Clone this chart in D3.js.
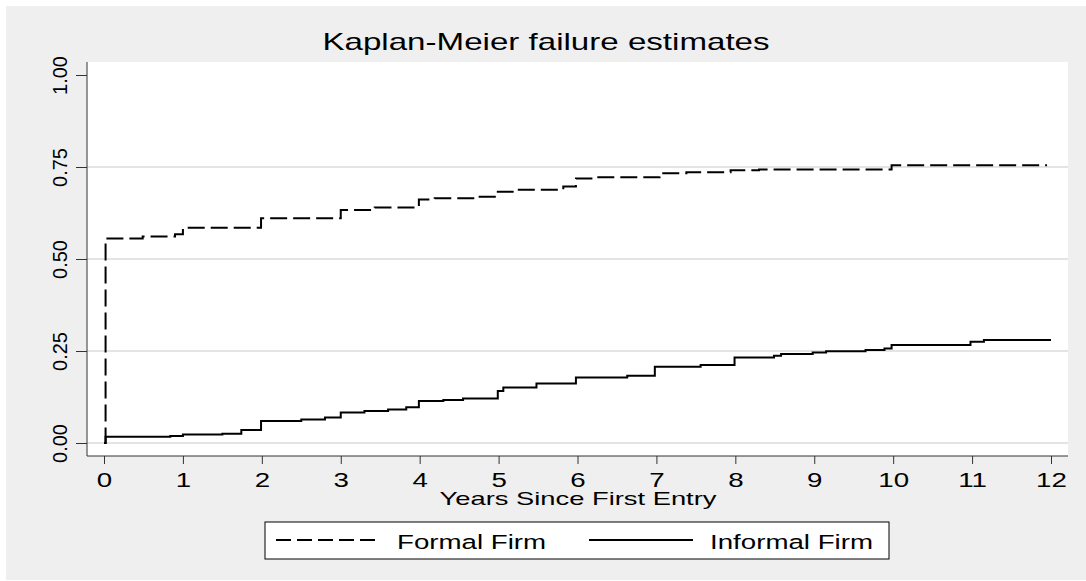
<!DOCTYPE html>
<html>
<head>
<meta charset="utf-8">
<script src="https://cdn.jsdelivr.net/npm/d3@7"></script>
<style>
  body { margin: 0; background: #fff; }
  text { font-family: "Liberation Sans", Arial, sans-serif; fill: #000; }
</style>
</head>
<body>
<div class="container"></div>
<script>
// ===== DATA =====
var formalTimes  = [0, 0.02, 0.49, 0.9, 1.0, 1.99, 3.0, 3.43, 3.99, 4.19, 4.76, 4.99, 5.22, 5.82, 5.98, 6.2, 7.04, 7.38, 7.94, 8.3, 9.98, 11.95];
var formalValues = [0, 0.556, 0.561, 0.567, 0.585, 0.611, 0.633, 0.640, 0.662, 0.665, 0.669, 0.683, 0.688, 0.697, 0.719, 0.722, 0.733, 0.736, 0.741, 0.743, 0.755, 0.755];

var informalTimes  = [0, 0.02, 0.84, 1.0, 1.5, 1.74, 1.99, 2.5, 2.8, 3.0, 3.3, 3.6, 3.83, 3.99, 4.3, 4.55, 4.99, 5.06, 5.48, 5.98, 6.63, 6.98, 7.56, 7.99, 8.49, 8.58, 8.98, 9.15, 9.65, 9.89, 9.98, 10.98, 11.15, 12];
var informalValues = [0, 0.017, 0.019, 0.023, 0.025, 0.035, 0.060, 0.064, 0.069, 0.083, 0.087, 0.091, 0.097, 0.114, 0.117, 0.121, 0.141, 0.151, 0.162, 0.178, 0.183, 0.207, 0.212, 0.232, 0.237, 0.242, 0.246, 0.249, 0.253, 0.257, 0.266, 0.275, 0.280, 0.280];

var xTicks = [0, 1, 2, 3, 4, 5, 6, 7, 8, 9, 10, 11, 12];
var yTicks = [0, 0.25, 0.5, 0.75, 1];
var gridTicks = [0, 0.25, 0.5, 0.75];
var seriesNames = ['Formal Firm', 'Informal Firm'];

buildChart();

function buildChart() {

  /* ===== SET UP CHART =====*/
  var w = 1086;
  var h = 581;
  var plot = { left: 87, right: 1068, top: 62, bottom: 456 };
  var stretch = 1.42;

  var svg = d3.select('.container')
    .append('svg')
    .attr('width', w)
    .attr('height', h);

  svg.append('rect')
    .attr('x', 6).attr('y', 6)
    .attr('width', w - 6).attr('height', h - 7)
    .attr('fill', '#efefef');

  svg.append('rect')
    .attr('x', plot.left).attr('y', plot.top)
    .attr('width', plot.right - plot.left)
    .attr('height', plot.bottom - plot.top)
    .attr('fill', '#fff');

  var xScale = d3.scaleLinear()
    .domain([0, 12])
    .range([104, 1051]);

  var yScale = d3.scaleLinear()
    .domain([0, 1])
    .range([443, 75]);

  /* ===== GRID =====*/
  svg.append('g')
    .selectAll('line')
    .data(gridTicks)
    .enter()
    .append('line')
    .attr('x1', plot.left)
    .attr('x2', plot.right)
    .attr('y1', function(d) { return yScale(d); })
    .attr('y2', function(d) { return yScale(d); })
    .attr('stroke', '#e4e4e4')
    .attr('stroke-width', 2);

  /* ===== AXES =====*/
  var xAxis = d3.axisBottom(xScale)
    .tickValues(xTicks)
    .tickSizeInner(8)
    .tickSizeOuter(0);

  var gx = svg.append('g')
    .attr('transform', 'translate(0,' + plot.bottom + ')')
    .call(xAxis);
  gx.select('.domain').remove();
  gx.selectAll('line').attr('stroke', '#333');
  gx.selectAll('text')
    .attr('y', 31)
    .attr('dy', 0)
    .attr('transform', 'scale(' + stretch + ',1)')
    .style('font-size', '19.5px')
    .style('font-family', '"Liberation Sans", Arial, sans-serif')
    .attr('fill', '#000');

  var yAxis = d3.axisLeft(yScale)
    .tickValues(yTicks)
    .tickFormat(d3.format('.2f'))
    .tickSizeInner(11)
    .tickSizeOuter(0);

  var gy = svg.append('g')
    .attr('transform', 'translate(' + plot.left + ',0)')
    .call(yAxis);
  gy.select('.domain').remove();
  gy.selectAll('line').attr('stroke', '#333');
  gy.selectAll('text')
    .attr('x', 0)
    .attr('dy', 0)
    .attr('text-anchor', 'middle')
    .attr('transform', 'translate(-20,0) rotate(-90)')
    .style('font-size', '20px')
    .style('font-family', '"Liberation Sans", Arial, sans-serif')
    .attr('fill', '#000');

  // axis lines
  svg.append('line')
    .attr('x1', plot.left).attr('x2', plot.left)
    .attr('y1', plot.top).attr('y2', plot.bottom)
    .attr('stroke', '#333');
  svg.append('line')
    .attr('x1', plot.left).attr('x2', plot.right)
    .attr('y1', plot.bottom).attr('y2', plot.bottom)
    .attr('stroke', '#333');

  /* ===== CURVES =====*/
  var line = d3.line()
    .x(function(d) { return xScale(d[0]); })
    .y(function(d) { return yScale(d[1]); })
    .curve(d3.curveStepAfter);

  svg.append('path')
    .datum(d3.zip(formalTimes, formalValues))
    .attr('d', line)
    .attr('fill', 'none')
    .attr('stroke', '#000')
    .attr('stroke-width', 2)
    .attr('stroke-dasharray', '17,6');

  svg.append('path')
    .datum(d3.zip(informalTimes, informalValues))
    .attr('d', line)
    .attr('fill', 'none')
    .attr('stroke', '#000')
    .attr('stroke-width', 2);

  /* ===== TITLES =====*/
  svg.append('text')
    .text('Kaplan-Meier failure estimates')
    .attr('text-anchor', 'middle')
    .attr('transform', 'translate(546,50) scale(1.44,1)')
    .style('font-size', '23px');

  svg.append('text')
    .text('Years Since First Entry')
    .attr('text-anchor', 'middle')
    .attr('transform', 'translate(578,505) scale(1.47,1)')
    .style('font-size', '18.6px');

  /* ===== LEGEND =====*/
  var legend = svg.append('g');
  legend.append('rect')
    .attr('x', 265).attr('y', 522)
    .attr('width', 624).attr('height', 37)
    .attr('fill', '#fff')
    .attr('stroke', '#000');

  var legendItems = [
    { name: seriesNames[0], x1: 276, x2: 380, tx: 397, dash: '15,6' },
    { name: seriesNames[1], x1: 589, x2: 693, tx: 710, dash: null }
  ];

  legendItems.forEach(function(it) {
    legend.append('line')
      .attr('x1', it.x1).attr('x2', it.x2)
      .attr('y1', 540).attr('y2', 540)
      .attr('stroke', '#000')
      .attr('stroke-width', 2)
      .attr('stroke-dasharray', it.dash);
    legend.append('text')
      .text(it.name)
      .attr('transform', 'translate(' + it.tx + ',549) scale(' + stretch + ',1)')
      .style('font-size', '19.5px');
  });
}
</script>
</body>
</html>
